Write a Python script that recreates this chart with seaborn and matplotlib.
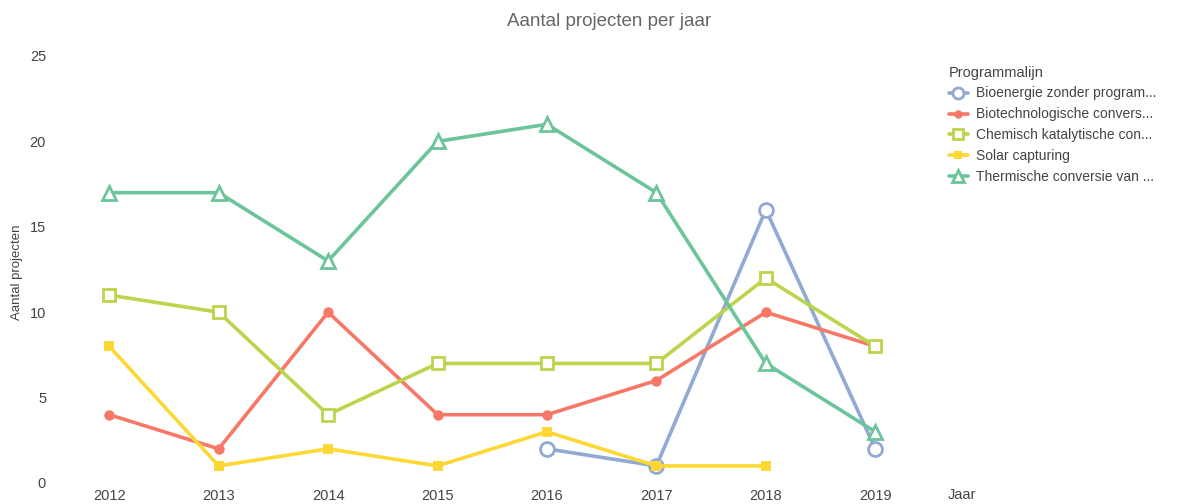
import matplotlib
matplotlib.use("Agg")
import matplotlib.pyplot as plt
import seaborn as sns
import numpy as np
import pandas as pd

years = [2012, 2013, 2014, 2015, 2016, 2017, 2018, 2019]
series_names = [
    "Bioenergie zonder program...",
    "Biotechnologische convers...",
    "Chemisch katalytische con...",
    "Solar capturing",
    "Thermische conversie van ...",
]
bioenergie = [np.nan, np.nan, np.nan, np.nan, 2, 1, 16, 2]
biotech = [4, 2, 10, 4, 4, 6, 10, 8]
chemisch = [11, 10, 4, 7, 7, 7, 12, 8]
solar = [8, 1, 2, 1, 3, 1, 1, np.nan]
thermisch = [17, 17, 13, 20, 21, 17, 7, 3]
y_ticks = [0, 5, 10, 15, 20, 25]

values = [bioenergie, biotech, chemisch, solar, thermisch]
colors = ["#92a9d4", "#f87868", "#bbd54c", "#fdd835", "#6cc59a"]
markers = ["o", "o", "s", "s", "^"]
filled = [False, True, False, True, False]
msizes = [10, 7.5, 9, 7.5, 10]

sns.set_style("white")
plt.rcParams["font.family"] = ["Liberation Sans", "DejaVu Sans"]

fig = plt.figure(figsize=(11.84, 5.04), dpi=100)
ax = fig.add_axes([60/1184, 21/504, (930-60)/1184, (483-56)/504])

for name, vals, c, m, f, ms in zip(series_names, values, colors, markers, filled, msizes):
    df = pd.DataFrame({"Jaar": years, "Aantal": vals}).dropna()
    sns.lineplot(data=df, x="Jaar", y="Aantal", ax=ax, color=c, linewidth=2.6,
                 marker=m, markersize=ms, markerfacecolor=(c if f else "white"),
                 markeredgecolor=c, markeredgewidth=(0 if f else 2.0),
                 label=name, clip_on=False)

ax.set_xlim(2011.55, 2019.5)
ax.set_ylim(0, 25)
ax.set_xticks(years)
ax.set_xticklabels([str(y) for y in years])
ax.set_yticks(y_ticks)
for s in ax.spines.values():
    s.set_visible(False)
ax.tick_params(axis="both", labelsize=10.5, colors="#dddddd", labelcolor="#444444", length=2)
ax.tick_params(axis="x", length=0, pad=4)
ax.tick_params(axis="y", pad=8)
ax.set_xlabel("")
ax.set_ylabel("")

fig.text(17/1184, 1 - 272/504, "Aantal projecten", rotation=90, ha="center", va="center",
         fontsize=9.5, color="#444444")
fig.text(962/1184, 9/504, "Jaar", ha="center", va="center", fontsize=10.5, color="#444444")
fig.text(609/1184, 482/504, "Aantal projecten per jaar", ha="center", va="center",
         fontsize=13.5, color="#666666")

ax.get_legend().remove()
h, l = ax.get_legend_handles_labels()
leg = fig.legend(h, l, title="Programmalijn", loc="upper left",
                 bbox_to_anchor=(936/1184, 1 - 53/504), frameon=False,
                 fontsize=10, title_fontsize=10.5, handlelength=1.4, markerscale=0.8,
                 labelspacing=0.5, handletextpad=0.6, alignment="left")
for t in leg.get_texts():
    t.set_color("#444444")
leg.get_title().set_color("#444444")

fig.savefig("out.png", dpi=100)
